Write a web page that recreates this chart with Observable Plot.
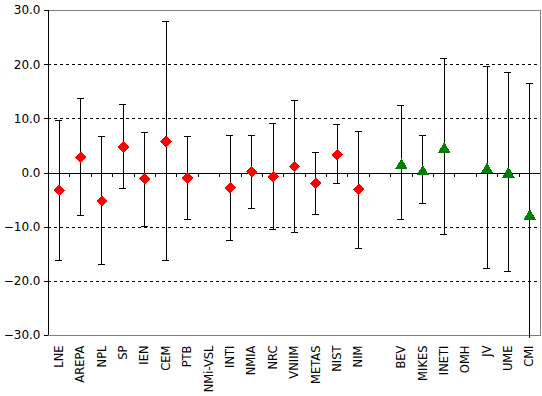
<!DOCTYPE html>
<html><head><meta charset="utf-8">
<script src="https://cdn.jsdelivr.net/npm/d3@7"></script>
<script src="https://cdn.jsdelivr.net/npm/@observablehq/plot@0.6"></script>
<style>html,body{margin:0;padding:0;background:#fff} svg{display:block}</style>
</head><body><div id="chart"></div>
<script>
// Categories (an empty slot separates the two groups)
const labs = ["LNE","AREPA","NPL","SP","IEN","CEM","PTB","NMi-VSL","INTI","NMIA","NRC","VNIIM","METAS","NIST","NIM","","BEV","MIKES","INETI","OMH","JV","UME","CMI"];
// Marker group per category
const groups = ["A","A","A","A","A","A","A","A","A","A","A","A","A","A","A","","B","B","B","B","B","B","B"];
// Central values
const values = [-3.2, 2.9, -5.2, 4.8, -1.1, 5.8, -0.9, null, -2.7, 0.2, -0.7, 1.2, -1.9, 3.4, -3.0, null, 1.7, 0.5, 4.7, null, 0.9, 0.1, -7.7];
// Upper and lower error bar ends
const upper = [9.7, 13.7, 6.7, 12.6, 7.4, 27.9, 6.7, null, 7.0, 7.0, 9.1, 13.4, 3.7, 8.9, 7.6, null, 12.4, 7.0, 21.1, null, 19.6, 18.5, 16.5];
const lower = [-16.2, -7.8, -16.9, -2.9, -9.8, -16.2, -8.5, null, -12.5, -6.6, -10.5, -11.0, -7.7, -1.9, -14.0, null, -8.6, -5.7, -11.4, null, -17.7, -18.1, -30.6];
// Y axis ticks and dashed gridlines
const yTicks = [-30, -20, -10, 0, 10, 20, 30];
const gridVals = [-20, -10, 10, 20];

const data = labs.map((name, k) => ({name, pos: k + 0.5, v: values[k], hi: upper[k], lo: lower[k], g: groups[k]}))
  .filter(d => d.v != null);
const caps = data.flatMap(d => [{pos: d.pos, y: d.hi}, {pos: d.pos, y: d.lo}]).filter(c => c.y >= -30 && c.y <= 30);
const centers = labs.map((n, k) => k + 0.5);
const bounds = d3.range(1, labs.length);

const chart = Plot.plot({
  width: 542, height: 396,
  marginLeft: 48, marginRight: 2, marginTop: 10, marginBottom: 61,
  style: {fontFamily: "'DejaVu Sans', Verdana, sans-serif", fontSize: "11px", background: "#fff", color: "#000", overflow: "visible", shapeRendering: "crispEdges"},
  x: {domain: [0, labs.length], axis: null, label: null},
  y: {domain: [-30, 30], axis: null, label: null},
  marks: [
    Plot.ruleY(gridVals, {stroke: "#000", strokeDasharray: "3,3"}),
    Plot.frame({stroke: "#808080"}),
    Plot.ruleY([0], {stroke: "#000"}),
    Plot.ruleX(bounds, {y1: 0, y2: 0, insetBottom: -4, stroke: "#000"}),
    Plot.ruleX([0], {stroke: "#000"}),
    Plot.axisY({ticks: yTicks, tickFormat: d3.format(".1f"), tickSize: 4, tickPadding: 4, fontSize: 12, stroke: "#000", label: null}),
    Plot.axisX({ticks: centers, tickFormat: (t) => labs[Math.floor(t)], tickRotate: -90, tickSize: 0, tickPadding: 10, fontSize: 11.5, label: null}),
    Plot.ruleX(data, {x: "pos", y1: "lo", y2: "hi", stroke: "#000", clip: false}),
    Plot.ruleY(caps, {x1: "pos", x2: "pos", y: "y", insetLeft: -3.5, insetRight: -3.5, stroke: "#000"}),
    Plot.dot(data.filter(d => d.g === "A"), {x: "pos", y: "v", symbol: "diamond2", r: 5.2, fill: "#ff0000", stroke: "none"}),
    Plot.dot(data.filter(d => d.g === "B"), {x: "pos", y: "v", symbol: "triangle", r: 4.6, dy: 1.5, fill: "#008000", stroke: "none"})
  ]
});
document.getElementById("chart").appendChild(chart);
</script>
</body></html>
